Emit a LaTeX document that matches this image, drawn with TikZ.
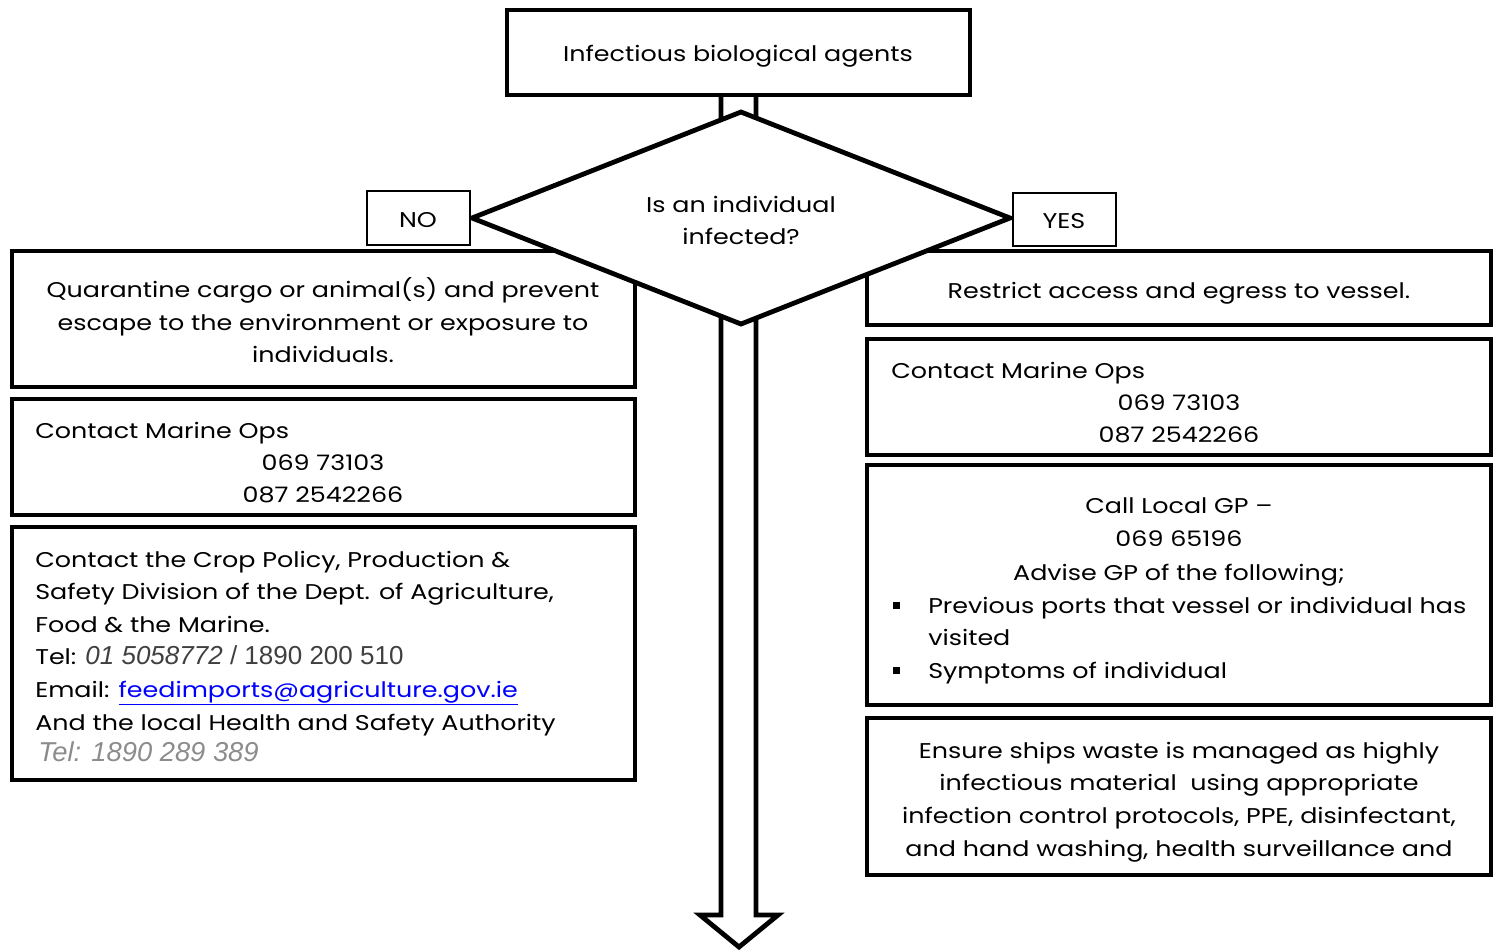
\documentclass[tikz,border=0pt]{standalone}
\usepackage{fontspec}
\setmainfont{Poppins}[FakeStretch=1.19]
\newfontfamily\arialf{Liberation Sans}
\usetikzlibrary{shapes.geometric,fit}
\definecolor{darkg}{HTML}{404040}
\definecolor{lightg}{HTML}{8C8C8C}
\definecolor{linkblue}{HTML}{0000FF}
\newcommand\fs{\fontsize{16}{24.4}\selectfont}
\newcommand\af{\arialf\fontsize{19.5}{24.4}\selectfont}
\newcommand\afb{\arialf\fontsize{20.5}{24.4}\selectfont}
\newcommand\sqbullet{\rule[3pt]{5pt}{5pt}}
\begin{document}
\begin{tikzpicture}[x=0.75pt,y=-0.75pt,
  heavy/.style={draw=black,line width=3.6pt,fill=white,line join=miter},
  box/.style={heavy,inner sep=0pt,outer sep=0pt},
  labelbox/.style={draw=black,line width=1.3pt,fill=white,inner sep=0pt,outer sep=0pt},
  txt/.style={anchor=base,inner sep=0pt,font=\fs},
  txtl/.style={anchor=base west,inner sep=0pt,font=\fs}]
\useasboundingbox (0,0) rectangle (1496,951);
% hollow down arrow (behind everything)
\coordinate (aL) at (721,95);
\coordinate (aR) at (756,95);
\coordinate (tip) at (739,947);
\draw[heavy] (aL) -- (721,915) -- (700,915) -- (tip) -- (778,915) -- (756,915) -- (aR);
% left boxes
\node[box,fit={(12,251)(635,387)}] (L1) {};
\node[box,fit={(12,399)(635,515)}] (L2) {};
\node[box,fit={(12,527)(635,780)}] (L3) {};
% right boxes
\node[box,fit={(867,251)(1491,325)}] (R1) {};
\node[box,fit={(867,339)(1491,455)}] (R2) {};
\node[box,fit={(867,465)(1491,705)}] (R3) {};
\node[box,fit={(867,718)(1491,875)}] (R4) {};
% decision diamond
\node[heavy,diamond,inner sep=0pt,outer sep=0pt,minimum width={538*0.75pt},minimum height={212*0.75pt}] (dec) at (741,218) {};
\node[txt] (dec1) at (741,212) {Is an individual};
\node[txt] (dec2) at (741,244) {infected?};
% top box
\node[box,fit={(507,10)(970,95)}] (top) {};
\node[txt] (ttop) at (738,61) {Infectious biological agents};
% NO / YES
\node[labelbox,fit={(367,191)(470,245)}] (no) {};
\node[txt] (tno) at (418,227) {NO};
\node[labelbox,fit={(1013,193)(1116,246)}] (yes) {};
\node[txt] (tyes) at (1064,228) {YES};
% left texts
\node[txt] (l1a) at (323,297) {Quarantine cargo or animal(s) and prevent};
\node[txt] (l1b) at (323,330) {escape to the environment or exposure to};
\node[txt] (l1c) at (323,362) {individuals.};
\node[txtl] (l2a) at (35,438) {Contact Marine Ops};
\node[txt] (l2b) at (323,470) {069 73103};
\node[txt] (l2c) at (323,502) {087 2542266};
\node[txtl] (l3a) at (35,567) {Contact the Crop Policy, Production \&};
\node[txtl] (l3b) at (35,599) {Safety Division of the Dept. of Agriculture,};
\node[txtl] (l3c) at (35,632) {Food \& the Marine.};
\node[txtl] (l3d) at (35,664) {Tel: {\af\color{darkg}\itshape 01 5058772}{\af\color{darkg}\ / 1890 200 510}};
\node[txtl] (l3e) at (35,697) {Email: {\color{linkblue}\underline{feedimports@agriculture.gov.ie}}};
\node[txtl] (l3f) at (35,730) {And the local Health and Safety Authority};
\node[txtl] (l3g) at (38,761) {\afb\itshape\color{lightg}Tel: 1890 289 389};
% right texts
\node[txt] (r1a) at (1179,298) {Restrict access and egress to vessel.};
\node[txtl] (r2a) at (891,378) {Contact Marine Ops};
\node[txt] (r2b) at (1179,410) {069 73103};
\node[txt] (r2c) at (1179,442) {087 2542266};
\node[txt] (r3a) at (1179,513) {Call Local GP –};
\node[txt] (r3b) at (1179,546) {069 65196};
\node[txt] (r3c) at (1179,580) {Advise GP of the following;};
\node[txtl] (b1) at (893,613) {\sqbullet};
\node[txtl] (r3d) at (928,613) {Previous ports that vessel or individual has};
\node[txtl] (r3e) at (928,645) {visited};
\node[txtl] (b2) at (893,678) {\sqbullet};
\node[txtl] (r3f) at (928,678) {Symptoms of individual};
\node[txt] (r4a) at (1179,758) {Ensure ships waste is managed as highly};
\node[txt] (r4b) at (1179,790) {infectious material\ \ using appropriate};
\node[txt] (r4c) at (1179,823) {infection control protocols, PPE, disinfectant,};
\node[txt] (r4d) at (1179,856) {and hand washing, health surveillance and};
\end{tikzpicture}
\end{document}
